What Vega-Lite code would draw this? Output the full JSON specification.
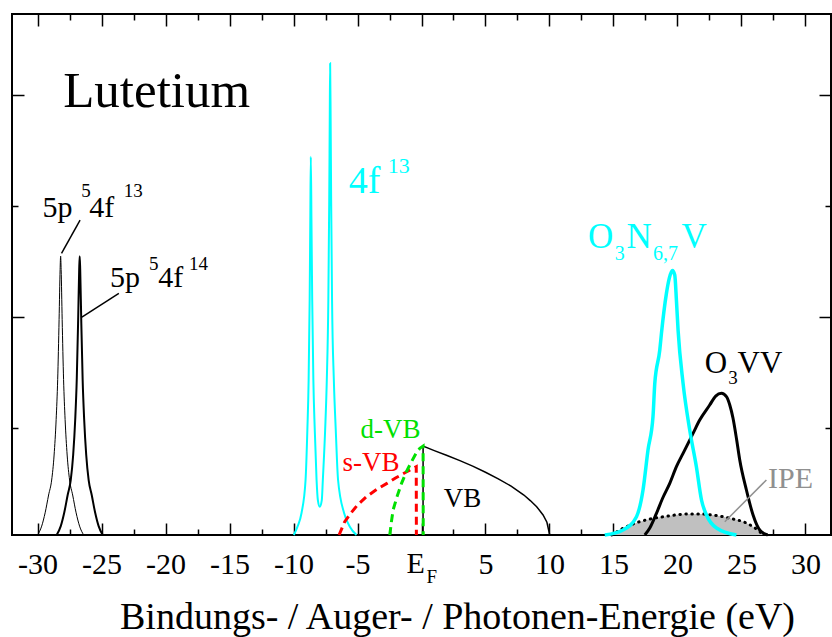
{
  "$schema": "https://vega.github.io/schema/vega-lite/v6.json",
  "width": 819,
  "height": 521,
  "autosize": "none",
  "padding": {"left": 12, "top": 14, "right": 1, "bottom": 102},
  "background": "white",
  "config": {
    "view": {"stroke": "black", "strokeWidth": 2}
  },
  "datasets": {
    "p5thin": [
      {"x": -30.0, "y": 0}, {"x": -29.68, "y": 0.08}, {"x": -29.41, "y": 0.2}, {"x": -29.14, "y": 0.36}, {"x": -28.9, "y": 0.495}, {"x": -28.71, "y": 0.72}, {"x": -28.55, "y": 1.04}, {"x": -28.43, "y": 1.4}, {"x": -28.32, "y": 1.94}, {"x": -28.24, "y": 2.39}, {"x": -28.2, "y": 2.51}, {"x": -28.16, "y": 2.39}, {"x": -28.08, "y": 1.94}, {"x": -27.97, "y": 1.4}, {"x": -27.85, "y": 1.04}, {"x": -27.69, "y": 0.72}, {"x": -27.5, "y": 0.495}, {"x": -27.26, "y": 0.36}, {"x": -26.99, "y": 0.2}, {"x": -26.72, "y": 0.08}, {"x": -26.4, "y": 0}
    ],
    "p5thick": [
      {"x": -28.51, "y": 0}, {"x": -28.19, "y": 0.08}, {"x": -27.92, "y": 0.2}, {"x": -27.65, "y": 0.36}, {"x": -27.41, "y": 0.495}, {"x": -27.22, "y": 0.72}, {"x": -27.06, "y": 1.04}, {"x": -26.94, "y": 1.4}, {"x": -26.83, "y": 1.94}, {"x": -26.75, "y": 2.39}, {"x": -26.71, "y": 2.51}, {"x": -26.67, "y": 2.39}, {"x": -26.59, "y": 1.94}, {"x": -26.48, "y": 1.4}, {"x": -26.36, "y": 1.04}, {"x": -26.2, "y": 0.72}, {"x": -26.01, "y": 0.495}, {"x": -25.77, "y": 0.36}, {"x": -25.5, "y": 0.2}, {"x": -25.23, "y": 0.08}, {"x": -24.91, "y": 0}
    ],
    "f4": [
      {"x": -9.98, "y": 0}, {"x": -9.69, "y": 0.075}, {"x": -9.375, "y": 0.198}, {"x": -9.06, "y": 0.495}, {"x": -8.92, "y": 0.945}, {"x": -8.82, "y": 1.395}, {"x": -8.74, "y": 2.115}, {"x": -8.69, "y": 2.835}, {"x": -8.65, "y": 3.405}, {"x": -8.6, "y": 2.835}, {"x": -8.54, "y": 2.115}, {"x": -8.45, "y": 1.395}, {"x": -8.34, "y": 0.945}, {"x": -8.2, "y": 0.495}, {"x": -8.1, "y": 0.315}, {"x": -7.95, "y": 0.255}, {"x": -7.79, "y": 0.315}, {"x": -7.71, "y": 0.495}, {"x": -7.53, "y": 0.945}, {"x": -7.4, "y": 1.395}, {"x": -7.28, "y": 2.115}, {"x": -7.21, "y": 3.015}, {"x": -7.17, "y": 3.735}, {"x": -7.14, "y": 4.246}, {"x": -7.1, "y": 3.735}, {"x": -7.06, "y": 3.015}, {"x": -6.99, "y": 2.115}, {"x": -6.85, "y": 1.395}, {"x": -6.7, "y": 0.945}, {"x": -6.52, "y": 0.495}, {"x": -6.05, "y": 0.198}, {"x": -5.6, "y": 0.075}, {"x": -5.08, "y": 0}
    ],
    "vb": [
      {"x": 0.12, "y": 0}, {"x": 0.125, "y": 0.8}, {"x": 1, "y": 0.76}, {"x": 2, "y": 0.715}, {"x": 3, "y": 0.67}, {"x": 4, "y": 0.62}, {"x": 5, "y": 0.565}, {"x": 6, "y": 0.505}, {"x": 7, "y": 0.44}, {"x": 8, "y": 0.36}, {"x": 8.5, "y": 0.31}, {"x": 9, "y": 0.255}, {"x": 9.5, "y": 0.18}, {"x": 9.8, "y": 0.115}, {"x": 10.02, "y": 0}
    ],
    "svb": [
      {"x": -6.44, "y": 0}, {"x": -6.0, "y": 0.12}, {"x": -5.5, "y": 0.2}, {"x": -5.0, "y": 0.27}, {"x": -4.3, "y": 0.345}, {"x": -3.5, "y": 0.41}, {"x": -2.7, "y": 0.465}, {"x": -2.0, "y": 0.515}, {"x": -1.3, "y": 0.56}, {"x": -0.8, "y": 0.59}, {"x": -0.41, "y": 0.615}, {"x": -0.4, "y": 0}
    ],
    "dvb": [
      {"x": -2.48, "y": 0}, {"x": -2.35, "y": 0.12}, {"x": -2.22, "y": 0.225}, {"x": -1.9, "y": 0.35}, {"x": -1.56, "y": 0.465}, {"x": -1.2, "y": 0.565}, {"x": -0.78, "y": 0.66}, {"x": -0.4, "y": 0.74}, {"x": -0.13, "y": 0.78}, {"x": 0.125, "y": 0.8}, {"x": 0.135, "y": 0}
    ],
    "o3n": [
      {"x": 14.32, "y": 0}, {"x": 15.75, "y": 0.045}, {"x": 16.8, "y": 0.165}, {"x": 17.31, "y": 0.405}, {"x": 17.7, "y": 0.765}, {"x": 18.09, "y": 1.065}, {"x": 18.23, "y": 1.365}, {"x": 18.62, "y": 1.665}, {"x": 18.75, "y": 1.815}, {"x": 19.14, "y": 2.175}, {"x": 19.36, "y": 2.31}, {"x": 19.61, "y": 2.38}, {"x": 19.79, "y": 2.34}, {"x": 19.92, "y": 2.115}, {"x": 20.05, "y": 1.845}, {"x": 20.44, "y": 1.365}, {"x": 20.96, "y": 0.945}, {"x": 21.48, "y": 0.615}, {"x": 21.88, "y": 0.315}, {"x": 22.27, "y": 0.18}, {"x": 23.05, "y": 0.063}, {"x": 24.61, "y": 0}
    ],
    "o3vv": [
      {"x": 17.45, "y": 0}, {"x": 17.84, "y": 0.063}, {"x": 18.36, "y": 0.195}, {"x": 18.85, "y": 0.333}, {"x": 19.4, "y": 0.465}, {"x": 19.92, "y": 0.615}, {"x": 20.44, "y": 0.735}, {"x": 21.22, "y": 0.915}, {"x": 21.74, "y": 1.035}, {"x": 22.52, "y": 1.17}, {"x": 22.99, "y": 1.25}, {"x": 23.44, "y": 1.275}, {"x": 23.83, "y": 1.245}, {"x": 24.09, "y": 1.17}, {"x": 24.34, "y": 1.053}, {"x": 24.63, "y": 0.855}, {"x": 24.87, "y": 0.675}, {"x": 25.39, "y": 0.405}, {"x": 25.91, "y": 0.18}, {"x": 26.43, "y": 0.045}, {"x": 27.05, "y": 0}
    ],
    "ipe": [
      {"x": 14.86, "y": 0}, {"x": 15.49, "y": 0.045}, {"x": 16.02, "y": 0.075}, {"x": 17.06, "y": 0.12}, {"x": 18.07, "y": 0.149}, {"x": 19.14, "y": 0.168}, {"x": 20.18, "y": 0.185}, {"x": 20.96, "y": 0.19}, {"x": 21.74, "y": 0.19}, {"x": 22.68, "y": 0.18}, {"x": 23.56, "y": 0.165}, {"x": 24.34, "y": 0.144}, {"x": 25.13, "y": 0.12}, {"x": 25.91, "y": 0.075}, {"x": 26.43, "y": 0.03}, {"x": 26.69, "y": 0}
    ],
    "pointers": [
      {"g": "k", "x": -26.68, "y": 2.835, "x2": -28.13, "y2": 2.536},
      {"g": "k", "x": -23.65, "y": 2.175, "x2": -26.54, "y2": 1.962},
      {"g": "grey", "x": 26.95, "y": 0.495, "x2": 23.7, "y2": 0.12}
    ],
    "labels": [
      {"g": "title", "t": "Lutetium", "x": -28.0, "y": 3.855},
      {"g": "k30", "t": "5p", "x": -29.61, "y": 2.865},
      {"g": "k30", "t": "4f", "x": -25.97, "y": 2.865},
      {"g": "k30", "t": "5p", "x": -24.35, "y": 2.23},
      {"g": "k30", "t": "4f", "x": -20.58, "y": 2.23},
      {"g": "k30", "t": "E", "x": -1.17, "y": -0.345},
      {"g": "k19", "t": "5", "x": -26.58, "y": 3.042},
      {"g": "k19", "t": "13", "x": -23.26, "y": 3.042},
      {"g": "k19", "t": "5", "x": -21.3, "y": 2.39},
      {"g": "k19", "t": "14", "x": -18.16, "y": 2.39},
      {"g": "k19", "t": "3", "x": 23.98, "y": 1.359},
      {"g": "k19", "t": "F", "x": 0.39, "y": -0.435},
      {"g": "c38", "t": "4f", "x": -5.68, "y": 3.081},
      {"g": "c22", "t": "13", "x": -2.63, "y": 3.261},
      {"g": "c35", "t": "O", "x": 13.02, "y": 2.581},
      {"g": "c35", "t": "N", "x": 16.02, "y": 2.581},
      {"g": "c35", "t": "V", "x": 20.31, "y": 2.581},
      {"g": "c20", "t": "3", "x": 15.1, "y": 2.475},
      {"g": "c20", "t": "6,7", "x": 18.09, "y": 2.475},
      {"g": "k31", "t": "O", "x": 22.13, "y": 1.455},
      {"g": "k31", "t": "VV", "x": 24.7, "y": 1.455},
      {"g": "grey", "t": "IPE", "x": 27.08, "y": 0.42},
      {"g": "green", "t": "d-VB", "x": -4.77, "y": 0.87},
      {"g": "red", "t": "s-VB", "x": -6.17, "y": 0.579},
      {"g": "k27", "t": "VB", "x": 1.74, "y": 0.255}
    ]
  },
  "resolve": {"axis": {"x": "independent", "y": "independent"}},
  "layer": [
    {
      "data": {"name": "ipe"},
      "mark": {"type": "area", "color": "#c0c0c0", "opacity": 1, "interpolate": "monotone"},
      "encoding": {
        "x": {"field": "x", "type": "quantitative", "scale": {"domain": [-32, 32], "nice": false, "zero": false}, "axis": null},
        "y": {"field": "y", "type": "quantitative", "scale": {"domain": [0, 4.69], "nice": false, "zero": false}, "axis": null}
      }
    },
    {
      "data": {"name": "ipe"},
      "mark": {"type": "line", "color": "black", "strokeWidth": 3, "strokeDash": [0.5, 5.5], "strokeCap": "round", "interpolate": "monotone"},
      "encoding": {
        "x": {"field": "x", "type": "quantitative", "axis": null},
        "y": {"field": "y", "type": "quantitative", "axis": null}
      }
    },
    {
      "data": {"name": "p5thin"},
      "mark": {"type": "line", "color": "black", "strokeWidth": 1, "interpolate": "monotone"},
      "encoding": {
        "x": {"field": "x", "type": "quantitative",
          "axis": {
            "orient": "bottom",
            "values": [-30, -27.5, -25, -22.5, -20, -17.5, -15, -12.5, -10, -7.5, -5, -2.5, 0, 2.5, 5, 7.5, 10, 12.5, 15, 17.5, 20, 22.5, 25, 27.5, 30],
            "labelExpr": "datum.value % 5 === 0 && datum.value !== 0 ? '' + datum.value : ''",
            "labelFont": "Liberation Serif", "labelFontSize": 30, "labelColor": "black",
            "labelBaseline": "alphabetic", "labelPadding": 50, "labelOverlap": false, "labelFlush": false, "labelBound": false,
            "tickSize": {"condition": {"test": "datum.value % 5 === 0", "value": -12}, "value": -6},
            "tickColor": "black", "tickWidth": 1.5,
            "domain": false, "grid": false,
            "title": "Bindungs- / Auger- / Photonen-Energie (eV)",
            "titleFont": "Liberation Serif", "titleFontSize": 38, "titleFontWeight": "normal", "titleColor": "black",
            "titleX": 445, "titleY": 93, "titleBaseline": "alphabetic", "titleAlign": "center"
          }
        },
        "y": {"field": "y", "type": "quantitative",
          "axis": {
            "orient": "left",
            "values": [0.965, 1.965, 2.965, 3.965],
            "labels": false,
            "tickSize": {"condition": {"test": "(datum.value > 1.5 && datum.value < 2.5) || datum.value > 3.5", "value": -12}, "value": -6},
            "tickColor": "black", "tickWidth": 1.5,
            "domain": false, "grid": false, "title": null
          }
        }
      }
    },
    {
      "data": {"name": "p5thick"},
      "mark": {"type": "line", "color": "black", "strokeWidth": 2, "interpolate": "monotone"},
      "encoding": {
        "x": {"field": "x", "type": "quantitative",
          "axis": {
            "orient": "top",
            "values": [-30, -27.5, -25, -22.5, -20, -17.5, -15, -12.5, -10, -7.5, -5, -2.5, 0, 2.5, 5, 7.5, 10, 12.5, 15, 17.5, 20, 22.5, 25, 27.5, 30],
            "labels": false,
            "tickSize": {"condition": {"test": "datum.value % 5 === 0", "value": -12}, "value": -6},
            "tickColor": "black", "tickWidth": 1.5,
            "domain": false, "grid": false, "title": null
          }
        },
        "y": {"field": "y", "type": "quantitative",
          "axis": {
            "orient": "right",
            "values": [0.965, 1.965, 2.965, 3.965],
            "labels": false,
            "tickSize": {"condition": {"test": "(datum.value > 1.5 && datum.value < 2.5) || datum.value > 3.5", "value": -12}, "value": -6},
            "tickColor": "black", "tickWidth": 1.5,
            "domain": false, "grid": false, "title": null
          }
        }
      }
    },
    {
      "data": {"name": "f4"},
      "mark": {"type": "line", "color": "#00ffff", "strokeWidth": 2, "interpolate": "monotone"},
      "encoding": {
        "x": {"field": "x", "type": "quantitative", "axis": null},
        "y": {"field": "y", "type": "quantitative", "axis": null}
      }
    },
    {
      "data": {"name": "vb"},
      "mark": {"type": "line", "color": "black", "strokeWidth": 1.5},
      "encoding": {
        "x": {"field": "x", "type": "quantitative", "axis": null},
        "y": {"field": "y", "type": "quantitative", "axis": null}
      }
    },
    {
      "data": {"name": "svb"},
      "mark": {"type": "line", "color": "#ff0000", "strokeWidth": 3, "strokeDash": [8, 5]},
      "encoding": {
        "x": {"field": "x", "type": "quantitative", "axis": null},
        "y": {"field": "y", "type": "quantitative", "axis": null}
      }
    },
    {
      "data": {"name": "dvb"},
      "mark": {"type": "line", "color": "#00e000", "strokeWidth": 3, "strokeDash": [8, 5]},
      "encoding": {
        "x": {"field": "x", "type": "quantitative", "axis": null},
        "y": {"field": "y", "type": "quantitative", "axis": null}
      }
    },
    {
      "data": {"name": "o3vv"},
      "mark": {"type": "line", "color": "black", "strokeWidth": 3, "interpolate": "monotone"},
      "encoding": {
        "x": {"field": "x", "type": "quantitative", "axis": null},
        "y": {"field": "y", "type": "quantitative", "axis": null}
      }
    },
    {
      "data": {"name": "o3n"},
      "mark": {"type": "line", "color": "#00ffff", "strokeWidth": 3.5, "interpolate": "monotone"},
      "encoding": {
        "x": {"field": "x", "type": "quantitative", "axis": null},
        "y": {"field": "y", "type": "quantitative", "axis": null}
      }
    },
    {
      "data": {"name": "pointers"},
      "transform": [{"filter": "datum.g === 'k'"}],
      "mark": {"type": "rule", "color": "black", "strokeWidth": 1.5},
      "encoding": {
        "x": {"field": "x", "type": "quantitative", "axis": null},
        "y": {"field": "y", "type": "quantitative", "axis": null},
        "x2": {"field": "x2"},
        "y2": {"field": "y2"}
      }
    },
    {
      "data": {"name": "pointers"},
      "transform": [{"filter": "datum.g === 'grey'"}],
      "mark": {"type": "rule", "color": "#909090", "strokeWidth": 1.5},
      "encoding": {
        "x": {"field": "x", "type": "quantitative", "axis": null},
        "y": {"field": "y", "type": "quantitative", "axis": null},
        "x2": {"field": "x2"},
        "y2": {"field": "y2"}
      }
    },
    {
      "data": {"name": "labels"},
      "transform": [{"filter": "datum.g === 'title'"}],
      "mark": {"type": "text", "align": "left", "baseline": "alphabetic", "font": "Liberation Serif", "fontSize": 51, "color": "black"},
      "encoding": {"x": {"field": "x", "type": "quantitative", "axis": null}, "y": {"field": "y", "type": "quantitative", "axis": null}, "text": {"field": "t"}}
    },
    {
      "data": {"name": "labels"},
      "transform": [{"filter": "datum.g === 'k30'"}],
      "mark": {"type": "text", "align": "left", "baseline": "alphabetic", "font": "Liberation Serif", "fontSize": 30, "color": "black"},
      "encoding": {"x": {"field": "x", "type": "quantitative", "axis": null}, "y": {"field": "y", "type": "quantitative", "axis": null}, "text": {"field": "t"}}
    },
    {
      "data": {"name": "labels"},
      "transform": [{"filter": "datum.g === 'k19'"}],
      "mark": {"type": "text", "align": "left", "baseline": "alphabetic", "font": "Liberation Serif", "fontSize": 19, "color": "black"},
      "encoding": {"x": {"field": "x", "type": "quantitative", "axis": null}, "y": {"field": "y", "type": "quantitative", "axis": null}, "text": {"field": "t"}}
    },
    {
      "data": {"name": "labels"},
      "transform": [{"filter": "datum.g === 'c38'"}],
      "mark": {"type": "text", "align": "left", "baseline": "alphabetic", "font": "Liberation Serif", "fontSize": 38, "color": "#00ffff"},
      "encoding": {"x": {"field": "x", "type": "quantitative", "axis": null}, "y": {"field": "y", "type": "quantitative", "axis": null}, "text": {"field": "t"}}
    },
    {
      "data": {"name": "labels"},
      "transform": [{"filter": "datum.g === 'c22'"}],
      "mark": {"type": "text", "align": "left", "baseline": "alphabetic", "font": "Liberation Serif", "fontSize": 22, "color": "#00ffff"},
      "encoding": {"x": {"field": "x", "type": "quantitative", "axis": null}, "y": {"field": "y", "type": "quantitative", "axis": null}, "text": {"field": "t"}}
    },
    {
      "data": {"name": "labels"},
      "transform": [{"filter": "datum.g === 'c35'"}],
      "mark": {"type": "text", "align": "left", "baseline": "alphabetic", "font": "Liberation Serif", "fontSize": 35, "color": "#00ffff"},
      "encoding": {"x": {"field": "x", "type": "quantitative", "axis": null}, "y": {"field": "y", "type": "quantitative", "axis": null}, "text": {"field": "t"}}
    },
    {
      "data": {"name": "labels"},
      "transform": [{"filter": "datum.g === 'c20'"}],
      "mark": {"type": "text", "align": "left", "baseline": "alphabetic", "font": "Liberation Serif", "fontSize": 20, "color": "#00ffff"},
      "encoding": {"x": {"field": "x", "type": "quantitative", "axis": null}, "y": {"field": "y", "type": "quantitative", "axis": null}, "text": {"field": "t"}}
    },
    {
      "data": {"name": "labels"},
      "transform": [{"filter": "datum.g === 'k31'"}],
      "mark": {"type": "text", "align": "left", "baseline": "alphabetic", "font": "Liberation Serif", "fontSize": 31, "color": "black"},
      "encoding": {"x": {"field": "x", "type": "quantitative", "axis": null}, "y": {"field": "y", "type": "quantitative", "axis": null}, "text": {"field": "t"}}
    },
    {
      "data": {"name": "labels"},
      "transform": [{"filter": "datum.g === 'grey'"}],
      "mark": {"type": "text", "align": "left", "baseline": "alphabetic", "font": "Liberation Serif", "fontSize": 30, "color": "#909090"},
      "encoding": {"x": {"field": "x", "type": "quantitative", "axis": null}, "y": {"field": "y", "type": "quantitative", "axis": null}, "text": {"field": "t"}}
    },
    {
      "data": {"name": "labels"},
      "transform": [{"filter": "datum.g === 'green'"}],
      "mark": {"type": "text", "align": "left", "baseline": "alphabetic", "font": "Liberation Serif", "fontSize": 27, "color": "#00e000"},
      "encoding": {"x": {"field": "x", "type": "quantitative", "axis": null}, "y": {"field": "y", "type": "quantitative", "axis": null}, "text": {"field": "t"}}
    },
    {
      "data": {"name": "labels"},
      "transform": [{"filter": "datum.g === 'red'"}],
      "mark": {"type": "text", "align": "left", "baseline": "alphabetic", "font": "Liberation Serif", "fontSize": 27, "color": "#ff0000"},
      "encoding": {"x": {"field": "x", "type": "quantitative", "axis": null}, "y": {"field": "y", "type": "quantitative", "axis": null}, "text": {"field": "t"}}
    },
    {
      "data": {"name": "labels"},
      "transform": [{"filter": "datum.g === 'k27'"}],
      "mark": {"type": "text", "align": "left", "baseline": "alphabetic", "font": "Liberation Serif", "fontSize": 27, "color": "black"},
      "encoding": {"x": {"field": "x", "type": "quantitative", "axis": null}, "y": {"field": "y", "type": "quantitative", "axis": null}, "text": {"field": "t"}}
    }
  ]
}
